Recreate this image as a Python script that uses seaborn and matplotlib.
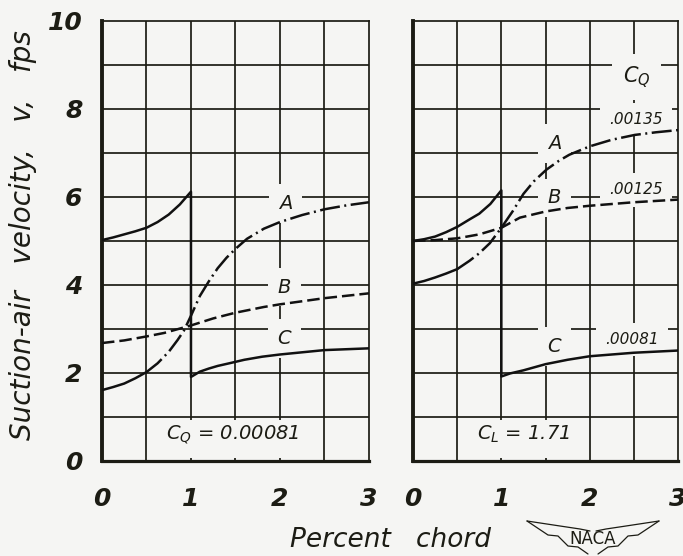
import matplotlib.pyplot as plt
import numpy as np
import pandas as pd
import seaborn as sns
from matplotlib.lines import Line2D

# ---- left panel (C_Q = 0.00081) ----
left_upper_x = [0, 0.125, 0.25, 0.375, 0.5, 0.625, 0.75, 0.875, 1.0,
                1.0, 1.1, 1.2, 1.3, 1.43, 1.6, 1.8, 2.0, 2.25, 2.5, 2.75, 3.0]
left_upper_v = [5.02, 5.08, 5.15, 5.22, 5.30, 5.43, 5.60, 5.83, 6.12,
                1.91, 2.03, 2.10, 2.16, 2.22, 2.30, 2.37, 2.42, 2.47, 2.52, 2.54, 2.56]

left_a_solid_x = [0, 0.125, 0.25, 0.375, 0.5]
left_a_solid_v = [1.61, 1.68, 1.76, 1.88, 2.02]
left_a_x = [0.5, 0.625, 0.75, 0.85, 0.92, 1.0, 1.1, 1.2, 1.3, 1.4, 1.5, 1.63, 1.82,
            2.0, 2.25, 2.5, 2.75, 3.0]
left_a_v = [2.02, 2.22, 2.48, 2.75, 2.96, 3.30, 3.75, 4.08, 4.38, 4.62, 4.82, 5.05, 5.28,
            5.43, 5.59, 5.72, 5.81, 5.88]

left_b_x = [0, 0.25, 0.5, 0.7, 1.0, 1.25, 1.5, 1.82, 2.0, 2.5, 3.0]
left_b_v = [2.68, 2.74, 2.83, 2.91, 3.08, 3.24, 3.37, 3.50, 3.56, 3.70, 3.81]

# ---- right panel (C_L = 1.71) ----
right_upper_x = [0, 0.125, 0.25, 0.375, 0.5, 0.64, 0.75, 0.875, 1.0,
                 1.0, 1.1, 1.25, 1.5, 1.75, 2.0, 2.5, 3.0]
right_upper_v = [5.0, 5.04, 5.10, 5.20, 5.32, 5.49, 5.62, 5.84, 6.15,
                 1.92, 1.99, 2.06, 2.20, 2.30, 2.38, 2.46, 2.51]

right_a_solid_x = [0, 0.125, 0.25, 0.375, 0.5]
right_a_solid_v = [4.03, 4.09, 4.17, 4.26, 4.36]
right_a_x = [0.5, 0.64, 0.75, 0.87, 1.0, 1.13, 1.25, 1.37, 1.51, 1.65, 1.77, 2.0,
             2.25, 2.51, 2.75, 3.0]
right_a_v = [4.36, 4.55, 4.72, 4.95, 5.30, 5.68, 6.07, 6.36, 6.62, 6.82, 6.96, 7.15,
             7.30, 7.41, 7.47, 7.52]

right_b_x = [0, 0.25, 0.5, 0.64, 0.75, 1.0, 1.21, 1.5, 1.75, 2.0, 2.5, 3.0]
right_b_v = [5.0, 5.02, 5.06, 5.11, 5.15, 5.30, 5.53, 5.67, 5.75, 5.80, 5.88, 5.94]

x_ticks = [0, 1, 2, 3]
x_tick_labels = ["0", "1", "2", "3"]
y_ticks = [0, 2, 4, 6, 8, 10]
y_tick_labels = ["0", "2", "4", "6", "8", "10"]

BG = "#f5f5f3"
INK = "#1c1c14"
CURVE = "#111111"

sns.set_theme(style="white", rc={"axes.facecolor": BG, "figure.facecolor": BG})
plt.rcParams["font.family"] = ["DejaVu Sans"]
plt.rcParams["font.style"] = "italic"
plt.rcParams["mathtext.fontset"] = "dejavusans"

fig = plt.figure(figsize=(6.83, 5.56), dpi=100, facecolor=BG)
ax_l = fig.add_axes([0.1493, 0.1709, 0.3909, 0.7914])
ax_r = fig.add_axes([0.6047, 0.1709, 0.3880, 0.7914])

SOLID = "-"
DASHED = (0, (5, 2))
DASHDOT = (0, (8, 1.8, 0.8, 1.8))


def draw(ax, x, v, ls):
    sns.lineplot(x=x, y=v, ax=ax, color=CURVE, lw=1.8, linestyle=ls,
                 estimator=None, sort=False, zorder=3)


def style_panel(ax, box_span, show_y):
    ax.set_xlim(0, 3)
    ax.set_ylim(0, 10)
    ax.set_axisbelow(False)
    ax.grid(False)
    for xv in np.arange(0.5, 3.0, 0.5):
        ax.axvline(xv, color=INK, lw=1.25, zorder=1)
    for yv in range(1, 10):
        ax.axhline(yv, color=INK, lw=1.25, zorder=1)
    # blank cell strip behind the parameter note
    ax.axvspan(box_span[0] + 0.03, box_span[1] - 0.03, ymin=0.006, ymax=0.094,
               color=BG, lw=0, zorder=1.5)
    ax.spines["left"].set_linewidth(2.8)
    ax.spines["bottom"].set_linewidth(2.3)
    ax.spines["top"].set_linewidth(1.25)
    ax.spines["right"].set_linewidth(1.25)
    for s in ax.spines.values():
        s.set_color(INK)
    ax.set_xticks(x_ticks)
    ax.set_xticklabels(x_tick_labels, fontweight="bold")
    ax.set_xticks([0.5, 1.5, 2.5], minor=True)
    ax.tick_params(axis="x", which="both", direction="in", length=4, width=1.2,
                   color=INK, pad=19, labelsize=18, labelcolor=INK)
    ax.set_yticks(y_ticks)
    if show_y:
        ax.set_yticklabels(y_tick_labels, fontweight="bold")
    else:
        ax.set_yticklabels([])
    ax.tick_params(axis="y", length=0, pad=14, labelsize=18, labelcolor=INK)
    ax.set_xlabel("")
    ax.set_ylabel("")


def label(ax, x, y, s, size, pad=0.5):
    ax.text(x, y, s, fontsize=size, ha="center", va="center", color=INK, zorder=2,
            bbox=dict(boxstyle=f"square,pad={pad}", fc=BG, ec="none"))


# left panel
draw(ax_l, left_upper_x, left_upper_v, SOLID)
draw(ax_l, left_a_solid_x, left_a_solid_v, SOLID)
draw(ax_l, left_a_x, left_a_v, DASHDOT)
draw(ax_l, left_b_x, left_b_v, DASHED)
style_panel(ax_l, (0.5, 2.5), True)
label(ax_l, 2.06, 5.85, "A", 14)
label(ax_l, 2.05, 3.95, "B", 14)
label(ax_l, 2.05, 2.78, "C", 14)
ax_l.text(1.47, 0.6, "$C_Q$ = 0.00081", fontsize=14, ha="center", va="center",
          color=INK, zorder=2)

# right panel
draw(ax_r, right_upper_x, right_upper_v, SOLID)
draw(ax_r, right_a_solid_x, right_a_solid_v, SOLID)
draw(ax_r, right_a_x, right_a_v, DASHDOT)
draw(ax_r, right_b_x, right_b_v, DASHED)
style_panel(ax_r, (0.5, 2.0), False)
label(ax_r, 1.6, 7.22, "A", 14)
label(ax_r, 1.6, 5.98, "B", 14)
label(ax_r, 1.6, 2.6, "C", 14)
label(ax_r, 2.53, 8.72, "$C_Q$", 15)
label(ax_r, 2.52, 7.76, ".00135", 11, pad=0.6)
label(ax_r, 2.52, 6.16, ".00125", 11, pad=0.6)
label(ax_r, 2.48, 2.76, ".00081", 11, pad=0.6)
ax_r.text(1.25, 0.6, "$C_L$ = 1.71", fontsize=14, ha="center", va="center",
          color=INK, zorder=2)

fig.text(0.033, 0.578, "Suction-air   velocity,   v,   fps", rotation=90,
         fontsize=20, ha="center", va="center", color=INK)
fig.text(0.572, 0.029, "Percent   chord", fontsize=19, ha="center", va="center",
         color=INK)

# NACA wing badge
fig.text(0.868, 0.031, "NACA", fontsize=12, style="normal", ha="center",
         va="center", color=INK)
W, H = 683.0, 556.0
wing = [(527, 521), (560, 526), (580, 529), (590, 531)]
feathers = [(527, 521), (548, 535), (558, 536), (568, 546), (578, 547), (588, 554)]
for pts in (wing, feathers):
    for side in (1, -1):
        xs = [(593 + side * (px - 593)) / W for px, _ in pts]
        ys = [1 - py / H for _, py in pts]
        fig.add_artist(Line2D(xs, ys, color=INK, lw=0.9))

fig.savefig("out.png", dpi=100, facecolor=BG)
